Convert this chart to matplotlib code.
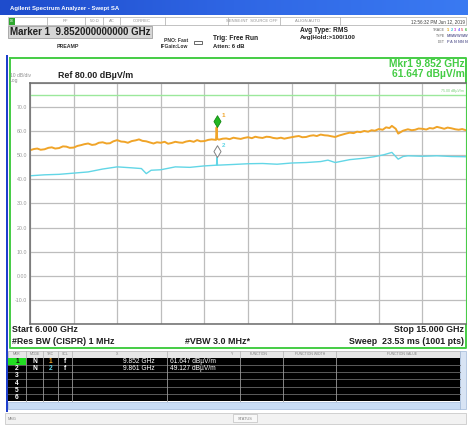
import matplotlib
matplotlib.use("Agg")
import numpy as np
import matplotlib.pyplot as plt
from matplotlib.patches import Rectangle
from matplotlib.path import Path
from matplotlib.colors import LinearSegmentedColormap

plt.rcParams['font.family'] = ['Liberation Sans', 'DejaVu Sans']

W, H = 468, 425

# trace 1 (orange) - GHz / dBuV/m
t1_freq = [6.0, 6.08, 6.15, 6.22, 6.3, 6.38, 6.45, 6.52, 6.6, 6.68, 6.75, 6.82, 6.9, 6.98,
           7.05, 7.12, 7.2, 7.28, 7.35, 7.42, 7.5, 7.58, 7.65, 7.72, 7.8, 7.88, 7.95, 8.02,
           8.1, 8.18, 8.25, 8.32, 8.4, 8.48, 8.55, 8.62, 8.7, 8.78, 8.85, 8.92, 9.0, 9.08,
           9.15, 9.22, 9.3, 9.38, 9.45, 9.52, 9.6, 9.68, 9.75, 9.84, 9.852,
           9.864, 9.9, 9.98, 10.05, 10.12, 10.2, 10.28, 10.35, 10.42, 10.5, 10.58, 10.65,
           10.72, 10.8, 10.88, 10.95, 11.02, 11.1, 11.18, 11.25, 11.32, 11.4, 11.48,
           11.55, 11.62, 11.7, 11.78, 11.85, 11.92, 12.0, 12.08, 12.15, 12.22, 12.3, 12.38,
           12.45, 12.52, 12.6, 12.68, 12.75, 12.82, 12.9, 12.98, 13.05, 13.12, 13.2, 13.28,
           13.35, 13.42, 13.47, 13.55, 13.6, 13.65, 13.7, 13.8, 13.88, 13.95, 14.02, 14.1,
           14.18, 14.25, 14.32, 14.4, 14.48, 14.55, 14.62, 14.7, 14.78, 14.85, 14.92, 15.0]
t1_level = [52.1, 52.6, 52.8, 52.3, 52.5, 53.1, 53.3, 52.8, 53.0, 53.7, 53.6, 53.1, 53.2, 53.9,
            54.2, 54.6, 54.9, 54.3, 54.5, 55.2, 55.4, 54.9, 55.0, 55.8, 56.3, 55.7, 55.6, 55.2,
            55.9, 56.2, 56.6, 56.0, 55.8, 55.3, 54.9, 55.4, 55.2, 55.6, 54.8, 55.1, 55.6, 55.3,
            55.2, 55.7, 56.0, 55.6, 56.3, 55.8, 55.9, 56.4, 56.6, 56.4, 61.6,
            56.8, 56.5, 56.9, 57.0, 56.7, 57.3, 57.0, 56.8, 57.2, 57.5, 57.1, 57.7,
            57.4, 57.2, 57.7, 57.6, 57.2, 57.0, 57.3, 56.9, 57.2, 57.5, 57.8,
            58.0, 57.5, 57.6, 58.1, 58.3, 58.0, 58.6, 58.3, 58.2, 57.9, 57.6, 58.2,
            58.6, 59.0, 59.4, 59.2, 59.8, 59.6, 60.1, 59.8, 60.4, 60.2, 60.9, 60.6,
            61.6, 61.3, 62.2, 61.0, 59.0, 59.6, 60.2, 60.8, 60.4, 60.6, 61.1, 61.0,
            60.7, 61.3, 61.1, 61.8, 61.4, 61.0, 61.5, 61.2, 60.8, 60.6, 60.9, 60.4]

# trace 2 (cyan)
t2_freq = [6.0, 6.3, 6.6, 6.9, 7.2, 7.5, 7.8, 8.1, 8.3, 8.4, 8.5, 8.7, 9.0, 9.3, 9.6,
           9.85, 9.861, 9.87, 10.2, 10.5, 10.8, 11.1, 11.4, 11.7, 12.0, 12.15, 12.3, 12.6,
           12.9, 13.1, 13.3, 13.47, 13.6, 13.7, 13.8, 14.1, 14.4, 14.7, 15.0]
t2_level = [41.5, 41.9, 42.1, 42.6, 43.1, 44.3, 45.2, 44.8, 44.5, 42.4, 43.8, 44.0, 45.2, 45.0, 45.6,
            45.9, 49.1, 45.9, 46.2, 46.5, 46.6, 46.3, 46.8, 47.0, 47.4, 48.0, 47.0, 48.2,
            48.8, 49.4, 50.2, 51.2, 48.4, 49.5, 49.8, 49.6, 49.8, 49.5, 49.4]

mkr_freq = [9.852, 9.861]
mkr_level = [61.647, 49.127]
display_line = 75.0
ref_level = 80.0
bottom_level = -20.0
start_ghz, stop_ghz = 6.0, 15.0
x_grid = [6.0, 6.9, 7.8, 8.7, 9.6, 10.5, 11.4, 12.3, 13.2, 14.1, 15.0]
y_grid = [-20, -10, 0, 10, 20, 30, 40, 50, 60, 70, 80]
y_labels = ['', '-10.0', '0.00', '10.0', '20.0', '30.0', '40.0', '50.0', '60.0', '70.0', '']

ORANGE = '#f0a428'
CYAN = '#62d6e6'
GREEN = '#44cc44'

fig = plt.figure(figsize=(W / 100, H / 100), dpi=100)

# background axes in pixel units for the instrument chrome
bg = fig.add_axes([0, 0, 1, 1])
grad = np.linspace(0, 1, 256).reshape(1, -1)
bluemap = LinearSegmentedColormap.from_list('b', ['#1e4ccc', '#2f66e4', '#3a7af2'])
bg.imshow(grad, cmap=bluemap, extent=(0, W, 15, 0), aspect='auto')
bg.set_xlim(0, W)
bg.set_ylim(H, 0)
bg.axis('off')
bg.text(10, 8, 'Agilent Spectrum Analyzer - Swept SA', color='white', fontsize=4.3,
        fontweight='bold', va='center')

# status row
bg.add_patch(Rectangle((8, 17), 458, 8, fc='white', ec='#b8b8b8', lw=0.6))
for xd in [47, 85, 103, 120, 165, 228, 280, 340]:
    bg.plot([xd, xd], [17, 25], color='#b8b8b8', lw=0.6)
bg.add_patch(Rectangle((8.5, 17.5), 6, 7, fc='#2fa82f', ec='none'))
bg.text(11.5, 21.3, 'LXI', fontsize=2, color='white', ha='center', va='center')
for tx, tt in [(65, 'RF'), (94, '50 Ω'), (111.5, 'AC'), (142, 'CORREC'),
               (252, 'SENSE:INT  SOURCE OFF'), (308, 'ALIGN AUTO')]:
    bg.text(tx, 21.3, tt, fontsize=3, color='#909090', ha='center', va='center')
bg.text(465, 21.3, '12:56:32 PM Jun 12, 2019', fontsize=3.3, color='#404040',
        ha='right', va='center')

# marker header
bg.add_patch(Rectangle((8, 26), 144, 11.5, fc='#d6d6d6', ec='#a0a0a0', lw=0.6))
bg.text(10, 32, 'Marker 1  9.852000000000 GHz', fontsize=7.0, fontweight='bold',
        va='center', color='#202020')
bg.text(68, 46.5, 'PREAMP', fontsize=3.8, fontweight='bold', ha='center', va='center',
        color='#303030')
bg.text(188, 40, 'PNO: Fast', fontsize=3.6, fontweight='bold', ha='right', va='center',
        color='#303030')
bg.text(188, 46.5, 'IFGain:Low', fontsize=3.6, fontweight='bold', ha='right', va='center',
        color='#303030')
bg.add_patch(Rectangle((194, 40.5), 8, 3.5, fc='white', ec='#505050', lw=0.6))
bg.text(213, 38.5, 'Trig: Free Run', fontsize=4.8, fontweight='bold', va='center',
        color='#202020')
bg.text(213, 46, 'Atten: 6 dB', fontsize=4.2, fontweight='bold', va='center', color='#202020')
bg.text(300, 30, 'Avg Type: RMS', fontsize=4.8, fontweight='bold', va='center', color='#202020')
bg.text(300, 37, 'Avg|Hold:>100/100', fontsize=4.5, fontweight='bold', va='center',
        color='#202020')

trace_cols = ['#e0a000', '#30c0e0', '#d040d0', '#6a6aff', '#e05070', '#30b030']
for yy, lab, chars in [(30, 'TRACE', '123456'), (36, 'TYPE', 'MWWWWW'), (42, 'DET', 'PANNNN')]:
    bg.text(445, yy, lab, fontsize=2.6, color='#606060', ha='right', va='center')
    for k, ch in enumerate(chars):
        bg.text(448 + k * 3.6, yy, ch, fontsize=2.8,
                color=trace_cols[k] if lab == 'TRACE' else '#7070a0',
                ha='center', va='center', fontweight='bold')

# frame around the trace window
bg.add_patch(Rectangle((5.5, 55), 2.6, 357, fc='#1f3fcc', ec='none'))
bg.plot([9.5, 466, 466, 9.5, 9.5], [57.5, 57.5, 348, 348, 57.5], color=GREEN, lw=1.4)

bg.text(10, 75, '10 dB/div', fontsize=3.6, color='#909090', va='center')
bg.text(10, 80.5, 'Log', fontsize=3.6, color='#909090', va='center')
bg.text(58, 75, f'Ref {ref_level:.2f} dBµV/m', fontsize=6.4, fontweight='bold',
        va='center', color='#202020')
bg.text(465, 63.5, f'Mkr1 {mkr_freq[0]:.3f} GHz', fontsize=7.4, fontweight='bold',
        color=GREEN, ha='right', va='center')
bg.text(465, 74, f'{mkr_level[0]:.3f} dBµV/m', fontsize=7.4, fontweight='bold',
        color=GREEN, ha='right', va='center')

bg.text(12, 330, f'Start {start_ghz:.3f} GHz', fontsize=6.4, fontweight='bold', va='center',
        color='#202020')
bg.text(12, 341, '#Res BW (CISPR) 1 MHz', fontsize=6.4, fontweight='bold', va='center',
        color='#202020')
bg.text(185, 341, '#VBW 3.0 MHz*', fontsize=6.4, fontweight='bold', va='center',
        color='#202020')
bg.text(464, 330, f'Stop {stop_ghz:.3f} GHz', fontsize=6.4, fontweight='bold', va='center',
        ha='right', color='#202020')
bg.text(464, 341, 'Sweep  23.53 ms (1001 pts)', fontsize=6.4, fontweight='bold', va='center',
        ha='right', color='#202020')

# marker table
col_edges = [8, 26, 43, 58, 72, 167, 240, 283, 336, 460]
bg.add_patch(Rectangle((8, 351), 452, 6.5, fc='#e6e6e6', ec='#b0b0b0', lw=0.5))
for xd in col_edges[1:-1]:
    bg.plot([xd, xd], [351, 357.5], color='#b0b0b0', lw=0.5)
for tx, tt in [(17, 'MKR'), (34.5, 'MODE'), (50.5, 'TRC'), (65, 'SCL'), (117, 'X'), (232, 'Y'),
               (259, 'FUNCTION'), (310, 'FUNCTION WIDTH'), (402, 'FUNCTION VALUE')]:
    bg.text(tx, 354.3, tt, fontsize=2.5, color='#808080', ha='center', va='center')
row_h = 7.3
body_top = 357.5
bg.add_patch(Rectangle((8, body_top), 452, 6 * row_h, fc='black', ec='none'))
for i in range(1, 6):
    bg.plot([8, 460], [body_top + i * row_h] * 2, color='#6a6a6a', lw=0.6)
for xd in col_edges[1:-1]:
    bg.plot([xd, xd], [body_top, body_top + 6 * row_h], color='#9a9a9a', lw=0.6)
bg.add_patch(Rectangle((8, body_top), 18, row_h, fc='#22dd22', ec='none'))
for i in range(6):
    yc = body_top + (i + 0.5) * row_h
    bg.text(17, yc, str(i + 1), fontsize=4.8, fontweight='bold',
            color='#101010' if i == 0 else 'white', ha='center', va='center')
for i, (f, lv) in enumerate(zip(mkr_freq, mkr_level)):
    yc = body_top + (i + 0.5) * row_h
    bg.text(34.5, yc, 'N', fontsize=4.8, fontweight='bold', color='white', ha='center', va='center')
    bg.text(50.5, yc, str(i + 1), fontsize=4.8, fontweight='bold',
            color=[ORANGE, CYAN][i], ha='center', va='center')
    bg.text(65, yc, 'f', fontsize=4.8, fontweight='bold', color='white', ha='center', va='center')
    bg.text(155, yc, f'{f:.3f} GHz', fontsize=4.8, color='white', ha='right', va='center')
    bg.text(170, yc, f'{lv:.3f} dBµV/m', fontsize=4.8, color='white', ha='left', va='center')
bg.add_patch(Rectangle((8, 402), 452, 7, fc='#c8dcf4', ec='#a0b8d8', lw=0.5))
bg.add_patch(Rectangle((460, 351), 6, 58, fc='#d8e4f4', ec='#a0b8d8', lw=0.5))

# bottom status bar
bg.add_patch(Rectangle((5, 413), 461, 11, fc='#f2f2f2', ec='#c0c0c0', lw=0.5))
bg.text(8, 419.5, 'MSG', fontsize=2.8, color='#808080', va='center')
bg.add_patch(Rectangle((233, 414), 24, 8, fc='#f8f8f8', ec='#c0c0c0', lw=0.5))
bg.text(245, 418.5, 'STATUS', fontsize=2.8, color='#808080', ha='center', va='center')

# spectrum trace window
ax = fig.add_axes([30 / W, 1 - 324 / H, 436 / W, 241 / H])
ax.set_xlim(start_ghz, stop_ghz)
ax.set_ylim(bottom_level, ref_level)
ax.set_xticks(x_grid)
ax.set_yticks(y_grid)
ax.set_xticklabels([])
ax.set_yticklabels(y_labels)
ax.tick_params(length=0, labelsize=3.8, labelcolor='#999999', pad=2)
ax.grid(True, color='#bdbdbd', lw=0.9)
ax.set_axisbelow(True)
for s in ['left', 'bottom', 'top']:
    ax.spines[s].set_color('#6a6a6a')
    ax.spines[s].set_linewidth(1.1)
ax.spines['right'].set_visible(False)

ax.axhline(display_line, color='#9be89b', lw=1.0)
ax.text(stop_ghz - 0.05, display_line + 1.0, f'{display_line:.2f} dBµV/m', fontsize=2.6,
        color='#7ad07a', ha='right', va='bottom')

ax.plot(t1_freq, t1_level, color=ORANGE, lw=1.4)
ax.plot(t2_freq, t2_level, color=CYAN, lw=1.0)

diamond = Path([(0, 0), (0.6, 1), (0, 2), (-0.6, 1), (0, 0)],
               [Path.MOVETO, Path.LINETO, Path.LINETO, Path.LINETO, Path.CLOSEPOLY])
ax.plot(mkr_freq[0], mkr_level[0], marker=diamond, ms=17, mfc='#22b822', mec='#118811', mew=0.6)
ax.plot(mkr_freq[1], mkr_level[1], marker=diamond, ms=17, mfc='white', mec='#808080', mew=0.7)
ax.annotate('1', (mkr_freq[0], mkr_level[0]), xytext=(3.5, 7.5), textcoords='offset points',
            fontsize=4.5, color=ORANGE, fontweight='bold')
ax.annotate('2', (mkr_freq[1], mkr_level[1]), xytext=(3.5, 7.5), textcoords='offset points',
            fontsize=4.5, color=CYAN, fontweight='bold')

fig.savefig('out.png', dpi=100)
